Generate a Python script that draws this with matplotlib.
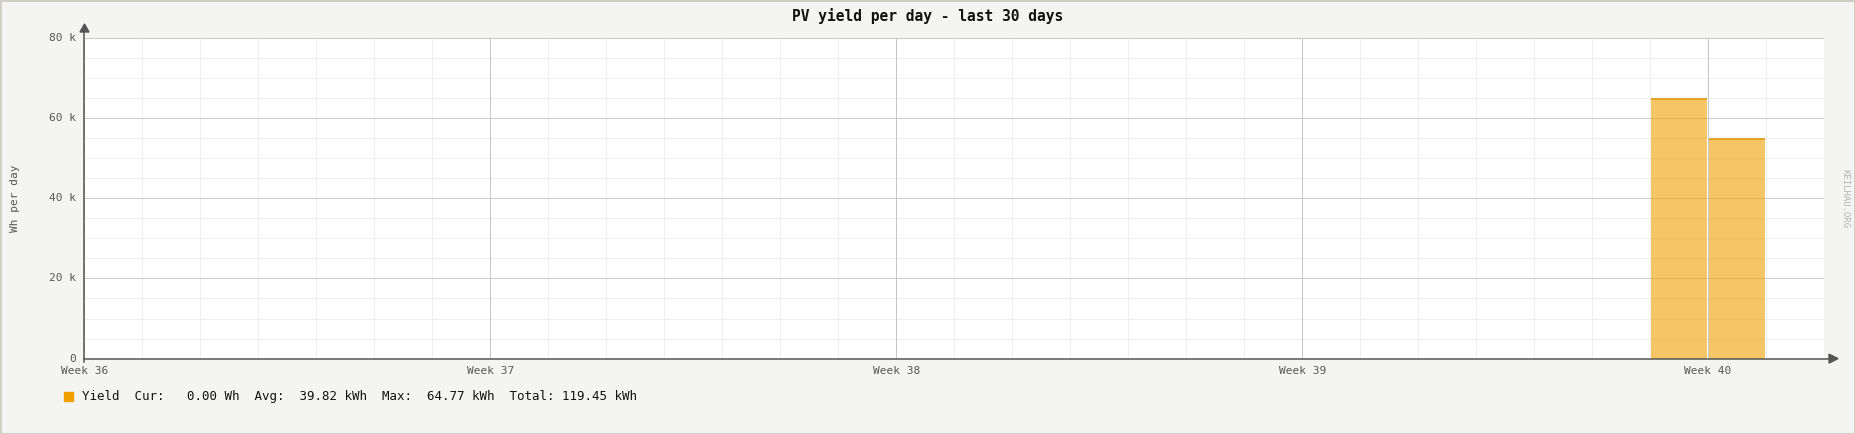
import numpy as np
import matplotlib
matplotlib.use("Agg")
import matplotlib.pyplot as plt
from matplotlib.patches import Rectangle

# ---- data ----
title = "PV yield per day - last 30 days"
y_label = "Wh per day"
week_labels = ["Week 36", "Week 37", "Week 38", "Week 39", "Week 40"]
week_start_day = [0, 7, 14, 21, 28]
nan = np.nan
yield_wh = [nan, nan, nan, nan, nan, nan, nan, nan, nan, nan,
            nan, nan, nan, nan, nan, nan, nan, nan, nan, nan,
            nan, nan, nan, nan, nan, nan, nan, 64770, 54680, 0]
y_ticks = [0, 20000, 40000, 60000, 80000]
y_tick_labels = ["0", "20 k", "40 k", "60 k", "80 k"]
legend_name = "Yield"
legend_stats = "Cur:   0.00 Wh  Avg:  39.82 kWh  Max:  64.77 kWh  Total: 119.45 kWh"
watermark = "KEILHAU.ORG"

W, H = 1856, 434
fig = plt.figure(figsize=(W / 100, H / 100), dpi=100)
fig.patch.set_facecolor("#f4f4f2")
mono = "DejaVu Sans Mono"

L, R, T, B = 84.5, 1824, 38, 358.6
ax = fig.add_axes([L / W, 1 - B / H, (R - L) / W, (B - T) / H])
ax.set_facecolor("white")
n_days = len(yield_wh)
ax.set_xlim(0, n_days)
ax.set_ylim(0, 80000)

# grid
for d in range(n_days + 1):
    ax.axvline(d, color="#efefef", lw=0.72, zorder=0)
for y in np.arange(0, 80001, 5000):
    ax.axhline(y, color="#efefef", lw=0.72, zorder=0)
for y in y_ticks:
    ax.axhline(y, color="#cacaca", lw=0.72, zorder=0.5)
for d in week_start_day:
    ax.axvline(d, color="#c6c6c6", lw=0.72, zorder=0.5)

# bars
x = np.arange(n_days)
vals = np.array(yield_wh, dtype=float)
gap = 0.02
mask = ~np.isnan(vals) & (vals > 0)
ax.bar(x[mask] + gap, vals[mask], width=1 - 2 * gap, align="edge",
       color="#f0a000", alpha=0.6, edgecolor="none", zorder=2)
ax.hlines(vals[mask], x[mask] + gap, x[mask] + 1 - gap, color="#e49c10", lw=1.2, zorder=3)

for s in ["top", "right", "left", "bottom"]:
    ax.spines[s].set_visible(False)
ax.set_xticks([])
ax.set_yticks([])

# axis lines with arrows (in figure pixel coords)
def fx(px):
    return px / W
def fy(py):
    return 1 - py / H

fig.add_artist(plt.Line2D([fx(L), fx(L)], [fy(B + 3), fy(30)], color="#555555", lw=1.1))
fig.add_artist(plt.Line2D([fx(L), fx(1830)], [fy(B), fy(B)], color="#555555", lw=1.1))
fig.patches.append(matplotlib.patches.Polygon(
    [[fx(L - 4.5), fy(32)], [fx(L + 4.5), fy(32)], [fx(L), fy(24)]],
    closed=True, transform=fig.transFigure, color="#555555"))
fig.patches.append(matplotlib.patches.Polygon(
    [[fx(1829), fy(B - 4.5)], [fx(1829), fy(B + 4.5)], [fx(1838), fy(B)]],
    closed=True, transform=fig.transFigure, color="#555555"))

# tick labels
for v, lab in zip(y_ticks, y_tick_labels):
    py = B - (B - T) * v / 80000
    fig.text(fx(76), fy(py), lab, ha="right", va="center", family=mono,
             fontsize=8, color="#555555")
for d, lab in zip(week_start_day, week_labels):
    px = L + (R - L) * d / n_days
    fig.text(fx(px), fy(370.5), lab, ha="center", va="center", family=mono,
             fontsize=8, color="#555555")

fig.text(0.5, fy(16.5), title, ha="center", va="center", family=mono,
         fontsize=10.5, fontweight="bold", color="#111111")
fig.text(fx(15), fy(198), y_label, ha="center", va="center", rotation=90,
         family=mono, fontsize=8, color="#555555")
fig.text(fx(1845), fy(199), watermark, ha="center", va="center", rotation=270,
         family=mono, fontsize=6.5, color="#b4b4b4")

# legend
fig.patches.append(Rectangle((fx(64), fy(401)), 9 / W, 9 / H, transform=fig.transFigure,
                             color="#f0a000"))
fig.text(fx(82.5), fy(396.5), legend_name + "  " + legend_stats, ha="left", va="center",
         family=mono, fontsize=9, color="#111111")

# outer border
fig.patches.append(Rectangle((0.5 / W, 0.5 / H), 1 - 1.5 / W, 1 - 1.5 / H,
                             transform=fig.transFigure, fill=False,
                             edgecolor="#cfcfc8", lw=1.5))

fig.savefig("out.png", dpi=100, facecolor=fig.get_facecolor())
